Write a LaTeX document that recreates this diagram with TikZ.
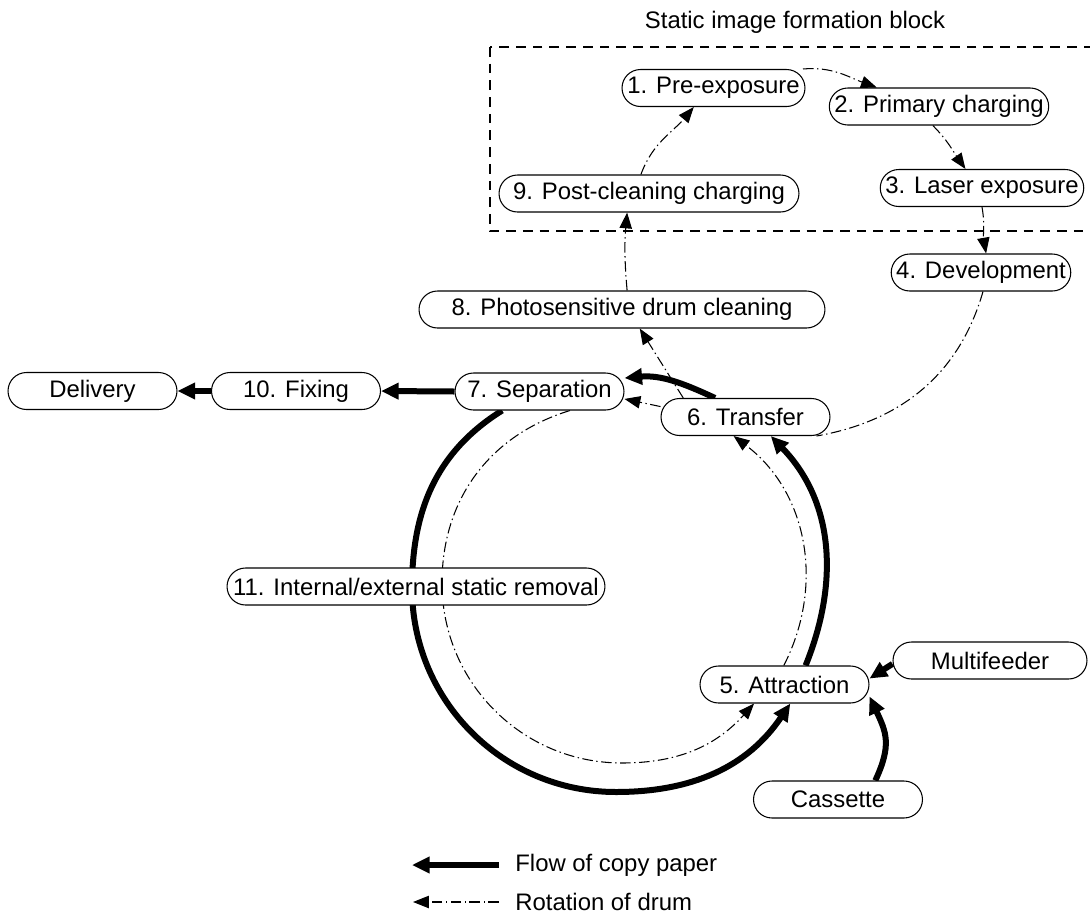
\documentclass[tikz,border=0pt]{standalone}
\usepackage{fontspec}
\setmainfont{Liberation Sans}
\usetikzlibrary{arrows.meta,positioning,backgrounds}

\begin{document}
\begin{tikzpicture}[x=0.02cm,y=0.02cm,
 font=\fontsize{13.6}{16}\selectfont,
 blk/.style={draw,fill=white,rectangle,rounded corners=0.37cm,minimum height=0.74cm,inner xsep=0.1cm,inner ysep=0pt,line width=0.6pt},
 blkw/.style={blk,minimum width=3.38cm},
 paper/.style={line width=0.12cm,-{Triangle[length=10pt,width=9pt]}},
 drum/.style={line width=0.6pt,dash pattern=on 6pt off 2pt on 0.8pt off 2pt,-{Triangle[length=9pt,width=7pt]}},
 ]
\useasboundingbox (0,0) rectangle (1090,-917);

% static image formation block
\draw[line width=0.6pt,dash pattern=on 5.5pt off 4pt] (490,-47) rectangle (1100,-231);
\node (title) at (795,-22) {Static image formation block};

\node[blk,minimum width=3.66cm] (pre) at (713.5,-88) {1. Pre-exposure};
\node[blk,minimum width=4.36cm] (pri) at (939,-106.5) {2. Primary charging};
\node[blk,minimum width=4.04cm] (las) at (982,-188) {3. Laser exposure};
\node[blk,minimum width=3.56cm] (dev) at (981,-272.5) {4. Development};
\node[blk,minimum width=6cm] (post) at (649,-193.5) {9. Post-cleaning charging~};
\node[blk,minimum width=8.12cm] (cle) at (622,-309.5) {8. Photosensitive drum cleaning~};

% paper path
\node[blkw] (del) at (92.5,-391) {Delivery};
\node[blkw] (fix) at (296,-391) {10. Fixing};
\node[blkw] (sep) at (539.5,-391.5) {7. Separation};
\node[blkw] (tra) at (745.5,-417) {6. Transfer};
\node[blk,minimum width=7.56cm] (rem) at (416,-586.5) {11. Internal/external static removal};
\node[blkw] (att) at (784.5,-684.5) {5. Attraction};
\node[blk,minimum width=3.88cm] (mul) at (990,-660.5) {Multifeeder};
\node[blkw] (cas) at (838,-799.5) {Cassette};

\coordinate (drumL) at (412,-588);
\coordinate (drumB) at (616,-792);
\coordinate (rotL) at (442,-583);
\coordinate (rotB) at (622,-763);

\begin{scope}[on background layer]
 \draw[paper] (sep.west) -- (fix.east);
 \draw[paper] (fix.west) -- (del.east);
 \draw[paper] (mul.182) -- (att.4);
 \draw[paper] (cas.27) to[out=65,in=-65,looseness=1.2] (att.-8);
 \draw[paper] (sep.207) to[out=212,in=90] (drumL) to[out=-90,in=180] (drumB) to[out=0,in=-124] (att.-73);
 \draw[paper] (att.42) to[out=68,in=-46] (tra.-37);
 \draw[paper] (tra.148) to[out=155,in=5] (sep.9);

 \draw[drum] (sep.-32) to[out=197,in=90] (rotL) to[out=-90,in=180] (rotB) to[out=0,in=-132] (att.-148);
 \draw[drum] (att.92) to[out=63,in=-37] (tra.-122);
 \draw[drum] (tra.173) -- (sep.-5);
 \draw[drum] (pre.12) to[out=5,in=160] (pri.163);
 \draw[drum] (pri.-108) to[out=-45,in=125] (las.131);
 \draw[drum] (las.south) to[out=-80,in=100] (dev.75);
 \draw[drum,-] (dev.-84) to[out=-106,in=10] (tra.-15);
 \draw[drum] (tra.163) -- (cle.-47);
 \draw[drum] (cle.75) to[out=95,in=-95] (post.-139);
 \draw[drum] (post.113) to[out=70,in=-130] (pre.-136);
\end{scope}

% legend
\node[anchor=west,inner sep=0pt] (lgflow) at (515,-865) {Flow of copy paper};
\node[anchor=west,inner sep=0pt] (lgdrum) at (515,-902) {Rotation of drum};
\coordinate[left=0.32cm of lgflow.west] (lgflowA);
\coordinate[left=1.74cm of lgflowA] (lgflowB);
\coordinate[left=0.32cm of lgdrum.west] (lgdrumA);
\coordinate[left=1.72cm of lgdrumA] (lgdrumB);
\draw[paper] (lgflowA) -- (lgflowB);
\draw[drum] (lgdrumA) -- (lgdrumB);
\end{tikzpicture}
\end{document}
